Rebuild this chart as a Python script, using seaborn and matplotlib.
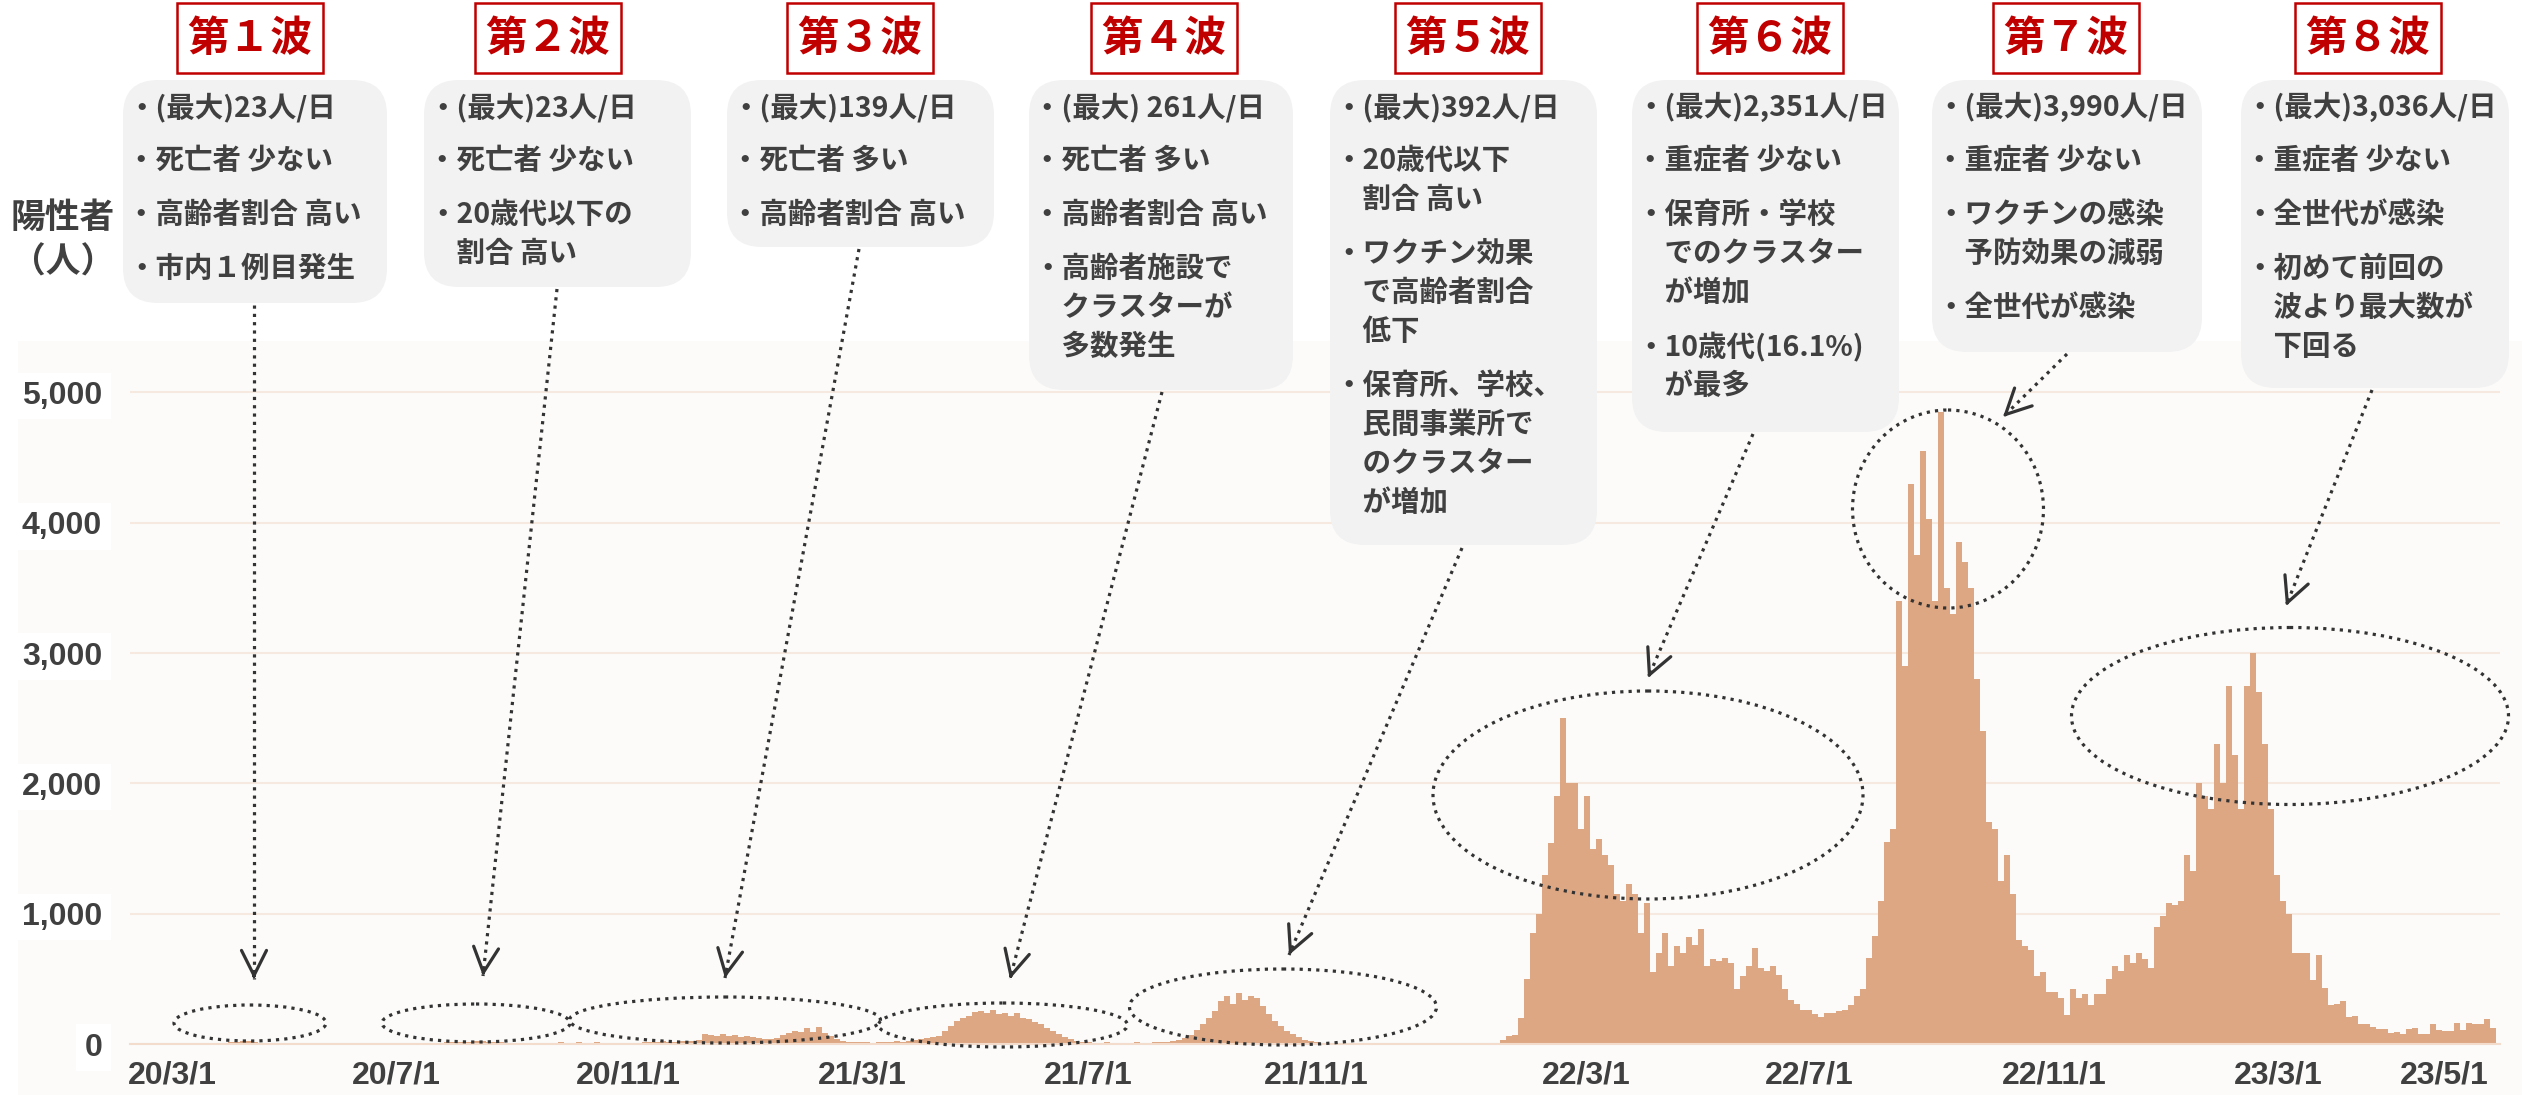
import matplotlib
matplotlib.use("Agg")
import matplotlib.pyplot as plt
import numpy as np
import pandas as pd
import seaborn as sns
from matplotlib.patches import Ellipse, FancyBboxPatch, Rectangle
from matplotlib.ticker import FuncFormatter

# ── 陽性者数（3日ごとの値、2020/3/1 から） ─────────────────────
start_date = pd.Timestamp("2020-03-01")
bin_days = 3

cases_2020_mar_oct = [0, 0, 0, 0, 1, 0, 1, 0, 2, 1, 3,
                      6, 12, 18, 21, 22, 16, 10, 6,
                      3, 2, 1, 0, 0, 1, 0, 0, 0, 0, 0, 1, 0, 0, 0, 0, 0, 1, 0, 0, 0, 1, 0, 1, 2, 2, 3,
                      5, 10, 15, 15, 14, 16, 18, 23, 20, 16, 15, 12, 10, 8, 5,
                      2, 2, 2, 8, 3, 10, 12, 4, 10, 12, 8, 10, 15, 6, 3, 2, 8, 10]
cases_wave3 = [5, 8, 15, 18, 12, 20, 18, 15, 20, 25, 20, 30, 75, 70, 65, 80, 60, 70, 55, 65,
               50, 45, 40, 35, 45, 70, 85, 100, 90, 120, 95, 130, 85, 60, 40, 25, 15]
cases_wave4 = [15, 12, 18, 10, 15, 12, 15, 20, 18, 25, 30, 35, 45, 55, 65, 100, 140, 175, 200, 215,
               245, 255, 240, 260, 230, 240, 215, 235, 200, 190, 165, 150, 120, 100, 80, 55, 35, 25, 15]
cases_2021_summer = [12, 10, 8, 12, 10, 6, 8, 10, 12, 8, 10, 12, 15, 18, 22]
cases_wave5 = [30, 45, 70, 110, 150, 200, 250, 330, 365, 310, 390, 340, 370, 350, 290, 230,
               180, 140, 100, 80, 50, 30, 20]
cases_2021_late = [12, 10, 8, 10, 8, 6, 8, 5, 4, 5, 3, 2, 3, 8, 2, 1, 2, 6, 1, 0,
                   0, 1, 0, 0, 0, 1, 0, 0, 1, 2, 3]
cases_wave6 = [30, 60, 70, 200, 500, 850, 1000, 1300, 1540, 1900,
               2500, 2000, 2000, 1650, 1900, 1500, 1570, 1450, 1370, 1150,
               1100, 1230, 1150, 850, 1085, 550, 700, 850, 600, 750,
               700, 820, 760, 880, 600, 650, 640, 660, 620, 420,
               520, 600, 740, 580, 560, 600, 530, 420, 340, 310,
               260, 260, 230, 210, 240, 240, 250, 260, 300, 370,
               420, 660, 830, 1100, 1550, 1650]
cases_wave7 = [3400, 2900, 4300, 3750, 4550, 4030, 3400, 4850, 3500, 3300,
               3850, 3700, 3500, 2800, 2400, 1700, 1650, 1250, 1450]
cases_wave8 = [1150, 800, 750, 720, 520, 550, 400, 400, 350, 220,
               420, 350, 380, 300, 380, 380, 500, 600, 560, 680,
               620, 700, 650, 580, 900, 980, 1080, 1070, 1100, 1450,
               1330, 2000, 1900, 1800, 2300, 2000, 2750, 2220, 1800, 2750,
               3000, 2700, 2300, 1800, 1300, 1100, 1000, 700, 700, 700,
               490, 680, 430, 300, 310, 330, 210, 215, 150, 150,
               130, 115, 115, 85, 90, 80, 115, 120, 80, 80,
               150, 110, 100, 100, 160, 110, 160, 155, 155, 190, 120]

tick_labels = ["20/3/1", "20/7/1", "20/11/1", "21/3/1", "21/7/1", "21/11/1",
               "22/3/1", "22/7/1", "22/11/1", "23/3/1", "23/5/1"]
y_ticks = [0, 1000, 2000, 3000, 4000, 5000]

wave_titles = ["第１波", "第２波", "第３波", "第４波", "第５波", "第６波", "第７波", "第８波"]
wave_notes = [
    ["・(最大)23人/日", "・死亡者 少ない", "・高齢者割合 高い", "・市内１例目発生"],
    ["・(最大)23人/日", "・死亡者 少ない", "・20歳代以下の\n　割合 高い"],
    ["・(最大)139人/日", "・死亡者 多い", "・高齢者割合 高い"],
    ["・(最大) 261人/日", "・死亡者 多い", "・高齢者割合 高い", "・高齢者施設で\n　クラスターが\n　多数発生"],
    ["・(最大)392人/日", "・20歳代以下\n　割合 高い", "・ワクチン効果\n　で高齢者割合\n　低下",
     "・保育所、学校、\n　民間事業所で\n　のクラスター\n　が増加"],
    ["・(最大)2,351人/日", "・重症者 少ない", "・保育所・学校\n　でのクラスター\n　が増加",
     "・10歳代(16.1%)\n　が最多"],
    ["・(最大)3,990人/日", "・重症者 少ない", "・ワクチンの感染\n　予防効果の減弱", "・全世代が感染"],
    ["・(最大)3,036人/日", "・重症者 少ない", "・全世代が感染", "・初めて前回の\n　波より最大数が\n　下回る"],
]

# ── レイアウト（ピクセル座標） ───────────────────────────────
W, H = 2522, 1095
TEXT = "#404040"
RED = "#c00000"
BAR = "#dda783"
GRID = "#f6e9df"
DOT = "#333333"

# 日付ラベルは元図の手置き位置に合わせる
label_px = [172, 396, 628, 862, 1088, 1316, 1586, 1809, 2054, 2278, 2444]
title_cx = [250, 548, 860, 1164, 1468, 1770, 2066, 2368]
note_boxes = [(123, 387, 80, 303), (424, 691, 80, 287), (727, 994, 80, 247), (1029, 1293, 80, 390),
              (1330, 1597, 80, 545), (1632, 1899, 80, 432), (1932, 2202, 80, 352), (2241, 2509, 80, 388)]
ellipses = [(250, 1023, 152, 36), (476, 1023, 188, 38), (725, 1020, 311, 46), (1003, 1025, 249, 44),
            (1283, 1007, 307, 76), (1648, 795, 430, 208), (1948, 509, 191, 198), (2290, 716, 437, 177)]
arrows = [((254, 305), (254, 979)), ((557, 289), (483, 976)), ((859, 249), (725, 978)),
          ((1162, 392), (1010, 979)), ((1462, 548), (1289, 955)), ((1753, 434), (1648, 678)),
          ((2067, 354), (2003, 417)), ((2372, 390), (2286, 606))]

sns.set_style("white")
plt.rcParams["font.family"] = ["Noto Sans CJK JP", "DejaVu Sans"]
CJK = ["Noto Sans CJK JP", "DejaVu Sans"]
LATIN = ["Liberation Sans", "DejaVu Sans"]

cases = (cases_2020_mar_oct + cases_wave3 + cases_wave4 + cases_2021_summer + cases_wave5
         + cases_2021_late + cases_wave6 + cases_wave7 + cases_wave8)
df = pd.DataFrame({"day": np.arange(len(cases)) * bin_days + bin_days / 2, "cases": cases})

fig = plt.figure(figsize=(W / 100, H / 100), dpi=100)
fig.patch.set_facecolor("white")
fig.patches.append(Rectangle((18 / W, 0), 1 - 18 / W, (H - 341) / H, transform=fig.transFigure,
                             facecolor="#fcfbfa", edgecolor="none", zorder=-10))

# ── 棒グラフ ──────────────────────────────────────────────
ax = fig.add_axes([130 / W, (H - 1044) / H, 2370 / W, 703 / H])
ax.set_facecolor("none")
sns.barplot(data=df, x="day", y="cases", native_scale=True, width=0.92, color=BAR,
            saturation=1, errorbar=None, linewidth=0, ax=ax)
ax.set_xlim(-13, 1172)
ax.set_ylim(0, 5395)
ax.set_xlabel("")
ax.set_ylabel("")

# 1 day = 2 px, day 0 at x = 156 px
month_days = (pd.date_range("2020-03-01", "2023-05-01", freq="MS") - start_date).days
ax.set_xticks([(p - 156) / 2 for p in label_px])
ax.set_xticklabels(tick_labels)
ax.set_xticks(month_days, minor=True)
ax.tick_params(axis="x", which="minor", length=5, width=1.5, color="#f2d6c4")
ax.tick_params(axis="x", which="major", length=0, pad=12)
for lbl in ax.get_xticklabels():
    lbl.set_family(LATIN)
    lbl.set_fontsize(23)
    lbl.set_fontweight("bold")
    lbl.set_color(TEXT)

ax.set_yticks(y_ticks)
ax.yaxis.set_major_formatter(FuncFormatter(lambda v, p: f"{int(v):,}"))
ax.tick_params(axis="y", length=0, pad=20)
for lbl in ax.get_yticklabels():
    lbl.set_family(LATIN)
    lbl.set_fontsize(23)
    lbl.set_fontweight("bold")
    lbl.set_color(TEXT)
    lbl.set_bbox(dict(facecolor="white", edgecolor="none", pad=6))

ax.yaxis.grid(True, color=GRID, linewidth=1.5)
ax.xaxis.grid(False)
ax.set_axisbelow(True)
for side in ["top", "right", "left"]:
    ax.spines[side].set_visible(False)
ax.spines["bottom"].set_color("#f3dccb")
ax.spines["bottom"].set_linewidth(1.5)

# ── 注記レイヤー ───────────────────────────────────────────
ov = fig.add_axes([0, 0, 1, 1])
ov.set_xlim(0, W)
ov.set_ylim(H, 0)
ov.axis("off")

ov.text(63, 217, "陽性者", ha="center", va="center", fontsize=25, fontweight="bold",
        color=TEXT, family=CJK)
ov.text(63, 262, "（人）", ha="center", va="center", fontsize=25, fontweight="bold",
        color=TEXT, family=CJK)

for cx, title in zip(title_cx, wave_titles):
    ov.add_patch(Rectangle((cx - 73, 3), 146, 70, facecolor="white", edgecolor=RED, linewidth=1.8))
    ov.text(cx, 39, title, ha="center", va="center", fontsize=30, fontweight="bold",
            color=RED, family=CJK)

for (x0, x1, y0, y1), notes in zip(note_boxes, wave_notes):
    ov.add_patch(FancyBboxPatch((x0, y0), x1 - x0, y1 - y0,
                                boxstyle="round,pad=0,rounding_size=35",
                                facecolor="#f2f2f2", edgecolor="none"))
    y = 107
    for item in notes:
        lines = item.split("\n")
        for j, line in enumerate(lines):
            ov.text(x0 + 4, y, line, ha="left", va="center", fontsize=20.5,
                    fontweight="bold", color=TEXT, family=CJK)
            if j < len(lines) - 1:
                y += 39
        y += 54

for cx, cy, w, h in ellipses:
    ov.add_patch(Ellipse((cx, cy), w, h, facecolor="none", edgecolor=DOT,
                         linewidth=2.3, linestyle=(0, (1, 1.6))))

for (sx, sy), (tx, ty) in arrows:
    ov.plot([sx, tx], [sy, ty], color=DOT, linewidth=2.3, linestyle=(0, (1, 1.6)))
    d = np.array([tx - sx, ty - sy], dtype=float)
    d /= np.hypot(*d)
    ov.annotate("", xy=(tx, ty), xytext=(tx - 4 * d[0], ty - 4 * d[1]),
                arrowprops=dict(arrowstyle="->,head_length=0.9,head_width=0.45",
                                color=DOT, linewidth=2.3, shrinkA=0, shrinkB=0,
                                mutation_scale=20))

fig.savefig("out.png", dpi=100)
